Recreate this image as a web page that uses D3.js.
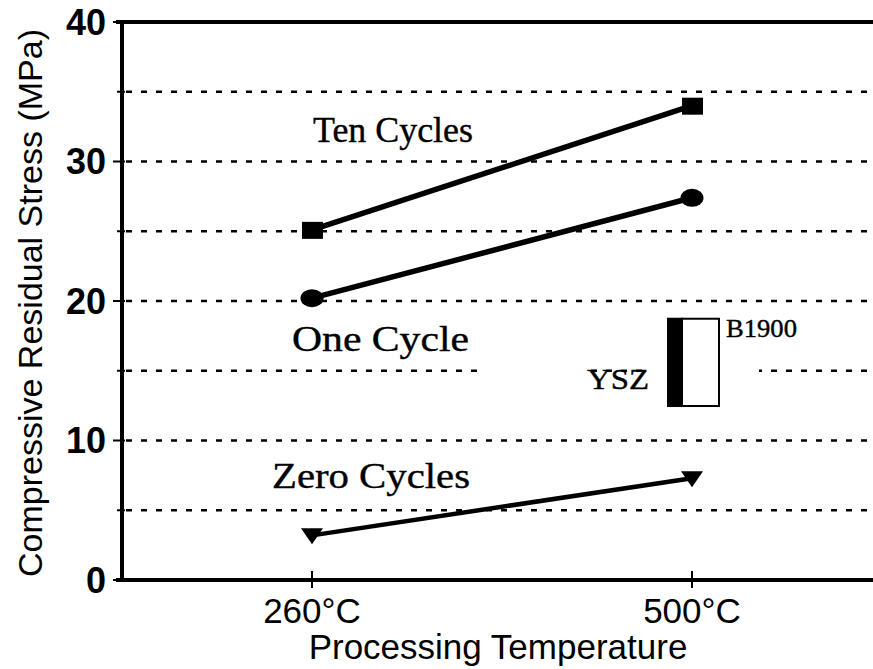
<!DOCTYPE html>
<html>
<head>
<meta charset="utf-8">
<script src="https://cdn.jsdelivr.net/npm/d3@7"></script>
<style>
  html, body { margin: 0; padding: 0; background: #fff; overflow: hidden; }
  svg { display: block; }
</style>
</head>
<body>
<svg id="chart" width="873" height="669"></svg>
<script>
// ---- data ----
const temperatures = ["260°C", "500°C"];
const seriesNames = ["Ten Cycles", "One Cycle", "Zero Cycles"];
const tenCycles = [25.1, 34.0];
const oneCycle = [20.2, 27.4];
const zeroCycles = [3.2, 7.3];
const yTicks = [0, 10, 20, 30, 40];
const yGrid = [5, 10, 15, 20, 25, 30, 35];
const insetLabels = ["YSZ", "B1900"];
const insetRange = [12.4, 18.8];

(function () {
// ---- layout ----
const svg = d3.select("#chart");
const pLeft = 122, pTop = 22, pBottom = 580, pRightEnd = 882;
const x = d3.scalePoint().domain(temperatures).range([pLeft, pRightEnd]).padding(0.5);
const y = d3.scaleLinear().domain([0, 40]).range([pBottom, pTop]);

const sans = "'Liberation Sans', Arial, Helvetica, sans-serif";
const serif = "'Liberation Serif', 'Times New Roman', Times, serif";

// gridlines
svg.append("g").selectAll("line").data(yGrid).join("line")
  .attr("x1", pLeft + 4).attr("x2", 873)
  .attr("y1", d => y(d)).attr("y2", d => y(d))
  .attr("stroke", "#000").attr("stroke-width", 2.5)
  .attr("stroke-dasharray", "6,9");

// gaps in the 15 MPa gridline around the inset
const xr = x("500°C");
svg.append("rect").attr("x", 478).attr("y", y(15) - 4).attr("width", xr - 105 - 478).attr("height", 8).attr("fill", "#fff");
svg.append("rect").attr("x", xr - 43).attr("y", y(15) - 4).attr("width", 110).attr("height", 8).attr("fill", "#fff");

// axes frame
svg.append("line").attr("x1", pLeft).attr("x2", pLeft).attr("y1", pTop).attr("y2", pBottom)
  .attr("stroke", "#000").attr("stroke-width", 4);
svg.append("line").attr("x1", pLeft - 6).attr("x2", 873).attr("y1", pTop).attr("y2", pTop)
  .attr("stroke", "#000").attr("stroke-width", 4);
svg.append("line").attr("x1", pLeft - 6).attr("x2", 873).attr("y1", pBottom).attr("y2", pBottom)
  .attr("stroke", "#000").attr("stroke-width", 4);

// y ticks
svg.append("g").selectAll("line").data(d3.range(0, 41, 5)).join("line")
  .attr("x1", d => yTicks.includes(d) ? pLeft - 9 : pLeft - 5)
  .attr("x2", pLeft + 3)
  .attr("y1", d => y(d)).attr("y2", d => y(d))
  .attr("stroke", "#000").attr("stroke-width", 2);

svg.append("g").selectAll("text").data(yTicks).join("text")
  .attr("x", 106).attr("y", d => y(d))
  .attr("dy", "0.36em")
  .attr("text-anchor", "end")
  .attr("font-family", sans).attr("font-weight", "bold").attr("font-size", 36)
  .text(d => d);

// x ticks
svg.append("g").selectAll("line").data(temperatures).join("line")
  .attr("x1", d => x(d)).attr("x2", d => x(d))
  .attr("y1", pBottom - 9).attr("y2", pBottom + 8)
  .attr("stroke", "#000").attr("stroke-width", 2);

svg.append("g").selectAll("text").data(temperatures).join("text")
  .attr("x", d => x(d)).attr("y", 623)
  .attr("text-anchor", "middle")
  .attr("font-family", sans).attr("font-size", 35)
  .text(d => d);

// axis titles
svg.append("text")
  .attr("x", 498).attr("y", 659)
  .attr("text-anchor", "middle")
  .attr("font-family", sans).attr("font-size", 35)
  .text("Processing Temperature");

svg.append("text")
  .attr("transform", `translate(42,${(pTop + pBottom) / 2 + 2}) rotate(-90)`)
  .attr("text-anchor", "middle")
  .attr("font-family", sans).attr("font-size", 34)
  .text("Compressive Residual Stress (MPa)");

// series
const series = [
  { name: seriesNames[0], values: tenCycles, marker: "square" },
  { name: seriesNames[1], values: oneCycle, marker: "circle" },
  { name: seriesNames[2], values: zeroCycles, marker: "triangle" }
];
const line = d3.line().x((d, i) => x(temperatures[i])).y(d => y(d));

series.forEach(s => {
  const g = svg.append("g");
  g.append("path").datum(s.values).attr("d", line)
    .attr("fill", "none").attr("stroke", "#000")
    .attr("stroke-width", s.marker === "triangle" ? 4.5 : 5.5);
  const pts = g.selectAll(".m").data(s.values).join("g")
    .attr("transform", (d, i) => `translate(${x(temperatures[i])},${y(d)})`);
  if (s.marker === "square") {
    pts.append("rect").attr("x", -10).attr("y", -8).attr("width", 21).attr("height", 17).attr("fill", "#000");
  } else if (s.marker === "circle") {
    pts.append("ellipse").attr("rx", 11.5).attr("ry", 9).attr("fill", "#000");
  } else {
    pts.append("path").attr("d", "M-11,-7 L11,-7 L0,9 Z").attr("fill", "#000");
  }
});

// series labels
const serifText = (t, xx, yy, fs, len) => {
  const tx = svg.append("text")
    .attr("x", xx).attr("y", yy)
    .attr("font-family", serif).attr("font-size", fs)
    .attr("stroke", "#000").attr("stroke-width", 0.4)
    .text(t);
  if (len) tx.attr("textLength", len).attr("lengthAdjust", "spacingAndGlyphs");
  return tx;
};
serifText(seriesNames[0], x("260°C") + 1, y(31.4), 36, 160);
serifText(seriesNames[1], x("260°C") - 20, y(16.4), 36, 177);
serifText(seriesNames[2], x("260°C") - 40, y(6.6), 36, 198);

// inset (YSZ / B1900)
const boxTop = y(insetRange[1]), boxBot = y(insetRange[0]);
svg.append("rect").attr("x", xr - 25).attr("y", boxTop).attr("width", 16).attr("height", boxBot - boxTop).attr("fill", "#000");
svg.append("rect").attr("x", xr - 10).attr("y", boxTop + 1).attr("width", 37).attr("height", boxBot - boxTop - 2)
  .attr("fill", "#fff").attr("stroke", "#000").attr("stroke-width", 2);
serifText(insetLabels[0], xr - 105, y(13.7), 29, 62);
serifText(insetLabels[1], xr + 34, y(17.4), 25, 71);
})();
</script>
</body>
</html>
